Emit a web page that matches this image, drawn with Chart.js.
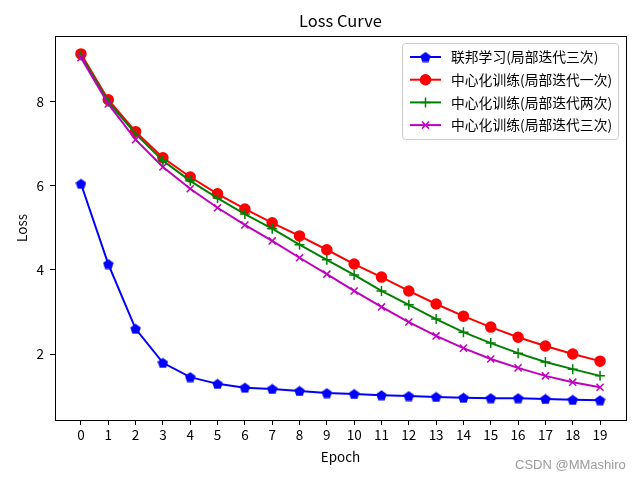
<!DOCTYPE html>
<html>
<head>
<meta charset="utf-8">
<script src="https://cdn.jsdelivr.net/npm/chart.js@4.4.0/dist/chart.umd.min.js"></script>
<style>
body { margin: 0; background: #fff; }
#wrap { position: relative; width: 640px; height: 480px; }
#mark { position: absolute; left: 515px; top: 457px; font: 13px "Liberation Sans", Arial, sans-serif; color: #9c9c9c; }
</style>
</head>
<body>
<div id="wrap">
  <canvas id="lossChart"></canvas>
  <div id="mark">CSDN @MMashiro</div>
</div>
<script>
// data
var epochs = [0, 1, 2, 3, 4, 5, 6, 7, 8, 9, 10, 11, 12, 13, 14, 15, 16, 17, 18, 19];
var yTicks = [2, 4, 6, 8];
var seriesNames = ['联邦学习(局部迭代三次)', '中心化训练(局部迭代一次)', '中心化训练(局部迭代两次)', '中心化训练(局部迭代三次)'];
var fedLoss3 = [6.05, 4.14, 2.6, 1.79, 1.45, 1.29, 1.2, 1.17, 1.12, 1.07, 1.05, 1.02, 1.0, 0.98, 0.96, 0.95, 0.95, 0.93, 0.91, 0.9];
var centralLoss1 = [9.14, 8.05, 7.29, 6.67, 6.21, 5.81, 5.45, 5.12, 4.81, 4.48, 4.14, 3.83, 3.5, 3.19, 2.9, 2.64, 2.4, 2.19, 2.0, 1.83];
var centralLoss2 = [9.1, 8.0, 7.24, 6.6, 6.12, 5.71, 5.33, 4.98, 4.6, 4.24, 3.88, 3.5, 3.17, 2.83, 2.52, 2.26, 2.02, 1.81, 1.64, 1.48];
var centralLoss3 = [9.05, 7.95, 7.1, 6.45, 5.93, 5.48, 5.07, 4.69, 4.29, 3.9, 3.5, 3.12, 2.76, 2.43, 2.14, 1.88, 1.67, 1.48, 1.33, 1.21];

var cjkFont = '"Noto Sans CJK SC", "Noto Sans", sans-serif';

// pentagon marker for the blue line
function makePentagon(color, size) {
  var c = document.createElement('canvas');
  c.width = size; c.height = size;
  var g = c.getContext('2d');
  var r = size / 2;
  g.beginPath();
  for (var i = 0; i < 5; i++) {
    var a = -Math.PI / 2 + i * 2 * Math.PI / 5;
    var px = r + r * Math.cos(a), py = r + 0.5 + r * Math.sin(a);
    if (i === 0) g.moveTo(px, py); else g.lineTo(px, py);
  }
  g.closePath();
  g.fillStyle = color;
  g.fill();
  return c;
}
var pentagon = makePentagon('#0000ff', 11);

function toPoints(arr) {
  return epochs.map(function(e, i) { return { x: e, y: arr[i] }; });
}

var styles = [
  { color: '#0000ff', pointStyle: pentagon, radius: 5, order: 3 },
  { color: '#ff0000', pointStyle: 'circle', radius: 5, order: 2 },
  { color: '#008000', pointStyle: 'cross', radius: 5, order: 1 },
  { color: '#bf00bf', pointStyle: 'crossRot', radius: 5, order: 0 }
];
var allSeries = [fedLoss3, centralLoss1, centralLoss2, centralLoss3];

var datasets = allSeries.map(function(arr, i) {
  var s = styles[i];
  return {
    label: seriesNames[i],
    data: toPoints(arr),
    borderColor: s.color,
    backgroundColor: s.color,
    borderWidth: 2,
    pointStyle: s.pointStyle,
    pointRadius: s.radius,
    pointBorderWidth: 1.5,
    pointHoverRadius: s.radius,
    order: s.order,
    tension: 0
  };
});

// box around the axes + legend inside the plot
var framePlugin = {
  id: 'frame',
  afterDatasetsDraw: function(chart) {
    var ctx = chart.ctx, a = chart.chartArea;
    ctx.save();
    ctx.strokeStyle = '#000';
    ctx.lineWidth = 1;
    ctx.strokeRect(Math.round(a.left) + 0.5, Math.round(a.top) + 0.5, Math.round(a.right - a.left), Math.round(a.bottom - a.top));

    // legend
    var bx = 402.5, by = 43.5, bw = 216, bh = 96;
    ctx.fillStyle = 'rgba(255,255,255,0.8)';
    ctx.strokeStyle = '#cccccc';
    ctx.beginPath();
    ctx.roundRect(bx, by, bw, bh, 3);
    ctx.fill();
    ctx.stroke();
    ctx.font = '13.8px ' + cjkFont;
    ctx.textBaseline = 'middle';
    for (var i = 0; i < seriesNames.length; i++) {
      var y = 57 + i * 22.7;
      var s = styles[i];
      ctx.strokeStyle = s.color;
      ctx.lineWidth = 2;
      ctx.beginPath();
      ctx.moveTo(410, y);
      ctx.lineTo(441, y);
      ctx.stroke();
      ctx.fillStyle = s.color;
      ctx.lineWidth = 1.5;
      Chart.helpers.drawPoint(ctx, { pointStyle: s.pointStyle, radius: s.radius, rotation: 0, borderWidth: 1.5 }, 425.5, y);
      ctx.fillStyle = '#000';
      ctx.fillText(seriesNames[i], 451, y);
    }
    ctx.restore();
  }
};

var ctx = document.getElementById('lossChart').getContext('2d');
var lossChart = new Chart(ctx, {
  type: 'line',
  data: { datasets: datasets },
  options: {
    responsive: true,
    maintainAspectRatio: false,
    animation: false,
    layout: { padding: { left: 0, right: 14, top: 0, bottom: 0 } },
    plugins: {
      legend: { display: false },
      tooltip: { enabled: false },
      title: {
        display: true,
        fullSize: false,
        text: 'Loss Curve',
        color: '#000',
        font: { family: cjkFont, size: 16.5, weight: 'normal' },
        padding: { top: 11, bottom: 5 }
      }
    },
    scales: {
      x: {
        type: 'linear',
        min: -0.95,
        max: 19.95,
        afterBuildTicks: function(scale) {
          scale.ticks = epochs.map(function(v) { return { value: v }; });
        },
        afterFit: function(scale) { scale.height = 60; },
        grid: { drawOnChartArea: false, drawTicks: true, tickLength: 5, color: '#000' },
        border: { display: false },
        ticks: { color: '#000', font: { family: cjkFont, size: 13.5 }, padding: 2, maxRotation: 0, autoSkip: false },
        title: { display: true, text: 'Epoch', color: '#000', font: { family: cjkFont, size: 13.5 }, padding: { top: 2, bottom: 15 } }
      },
      y: {
        min: 0.43,
        max: 9.57,
        afterBuildTicks: function(scale) {
          scale.ticks = yTicks.map(function(v) { return { value: v }; });
        },
        afterFit: function(scale) { scale.width = 55; },
        grid: { drawOnChartArea: false, drawTicks: true, tickLength: 5, color: '#000' },
        border: { display: false },
        ticks: { color: '#000', font: { family: cjkFont, size: 13.5 }, padding: 6 },
        title: { display: true, text: 'Loss', color: '#000', font: { family: cjkFont, size: 13.5 }, padding: { top: 14, bottom: 4 } }
      }
    }
  },
  plugins: [framePlugin]
});
</script>
</body>
</html>
